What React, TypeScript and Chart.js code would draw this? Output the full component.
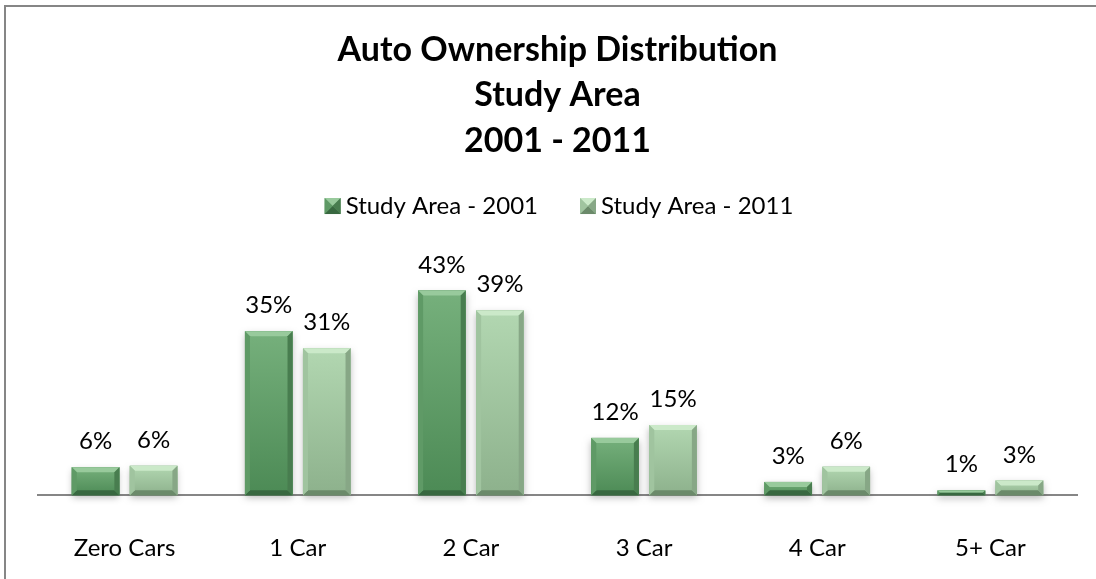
import React, { useEffect, useRef } from "react";
import { Chart, registerables } from "chart.js";

Chart.register(...registerables);

const categories = ["Zero Cars", "1 Car", "2 Car", "3 Car", "4 Car", "5+ Car"];
const series2001 = [5.9, 34.6, 43.2, 12.1, 2.8, 1.0];
const series2011 = [6.2, 31.0, 39.0, 14.8, 6.0, 3.1];
const seriesNames = ["Study Area - 2001", "Study Area - 2011"];
const titleLines = ["Auto Ownership Distribution", "Study Area", "2001 - 2011"];

const FONT = "Lato, 'Noto Sans', sans-serif";

const palettes = [
  { face1: "#76b07c", face2: "#4c8a55", top: "#98ca9c", left: "#5f9a66", right: "#487d4f", bottom: "#386840", solid: "#63a06a" },
  { face1: "#b2d7b1", face2: "#8db18c", top: "#cbe9c9", left: "#a0c49f", right: "#87a786", bottom: "#6b8a6a", solid: "#a3c8a2" },
];

function drawBevelBox(ctx: CanvasRenderingContext2D, l: number, t: number, r: number, b: number, p: any, bevel: number) {
  const h = b - t;
  const w = r - l;
  const bv = Math.max(0, Math.min(bevel, h / 2, w / 2));
  const g = ctx.createLinearGradient(0, t, 0, b);
  g.addColorStop(0, p.face1);
  g.addColorStop(1, p.face2);
  ctx.fillStyle = g;
  ctx.fillRect(l, t, w, h);
  ctx.fillStyle = p.top;
  ctx.beginPath();
  ctx.moveTo(l, t); ctx.lineTo(r, t); ctx.lineTo(r - bv, t + bv); ctx.lineTo(l + bv, t + bv); ctx.closePath(); ctx.fill();
  ctx.fillStyle = p.bottom;
  ctx.beginPath();
  ctx.moveTo(l, b); ctx.lineTo(r, b); ctx.lineTo(r - bv, b - bv); ctx.lineTo(l + bv, b - bv); ctx.closePath(); ctx.fill();
  ctx.fillStyle = p.left;
  ctx.beginPath();
  ctx.moveTo(l, t); ctx.lineTo(l + bv, t + bv); ctx.lineTo(l + bv, b - bv); ctx.lineTo(l, b); ctx.closePath(); ctx.fill();
  ctx.fillStyle = p.right;
  ctx.beginPath();
  ctx.moveTo(r, t); ctx.lineTo(r - bv, t + bv); ctx.lineTo(r - bv, b - bv); ctx.lineTo(r, b); ctx.closePath(); ctx.fill();
}

const borderPlugin = {
  id: "frameBorder",
  beforeDraw(chart: any) {
    const ctx = chart.ctx;
    ctx.save();
    ctx.fillStyle = "#ffffff";
    ctx.fillRect(0, 0, chart.width, chart.height);
    ctx.strokeStyle = "#868686";
    ctx.lineWidth = 2;
    ctx.beginPath();
    ctx.moveTo(5, chart.height + 2);
    ctx.lineTo(5, 6);
    ctx.lineTo(chart.width + 2, 6);
    ctx.stroke();
    ctx.restore();
  },
};

const LEGEND_BOX = 16;

const bevelBarsPlugin = {
  id: "bevelBars",
  afterDatasetsDraw(chart: any) {
    const ctx = chart.ctx;
    ctx.save();
    chart.data.datasets.forEach((ds: any, di: number) => {
      const meta = chart.getDatasetMeta(di);
      const p = palettes[di];
      meta.data.forEach((bar: any) => {
        const l = bar.x - bar.width / 2;
        const r = bar.x + bar.width / 2;
        const t = bar.y;
        const b = bar.base;
        ctx.save();
        ctx.shadowColor = "rgba(0,0,0,0.28)";
        ctx.shadowBlur = 7;
        ctx.shadowOffsetY = 3;
        ctx.fillStyle = p.face2;
        ctx.fillRect(l, t, r - l, b - t);
        ctx.restore();
        drawBevelBox(ctx, l, t, r, b, p, 5);
      });
    });
    ctx.fillStyle = "#000000";
    ctx.font = `24px ${FONT}`;
    ctx.textAlign = "center";
    ctx.textBaseline = "alphabetic";
    chart.data.datasets.forEach((ds: any, di: number) => {
      const meta = chart.getDatasetMeta(di);
      meta.data.forEach((bar: any, i: number) => {
        ctx.fillText(Math.round(ds.data[i]) + "%", bar.x, bar.y - 18);
      });
    });
    ctx.restore();
  },
  afterDraw(chart: any) {
    const legend = chart.legend;
    if (!legend || !legend.legendHitBoxes) return;
    const ctx = chart.ctx;
    ctx.save();
    legend.legendHitBoxes.forEach((hb: any, i: number) => {
      const p = palettes[i];
      const t = hb.top + (hb.height - LEGEND_BOX) / 2;
      ctx.fillStyle = "#ffffff";
      ctx.fillRect(hb.left - 1, t - 2, LEGEND_BOX + 2, LEGEND_BOX + 4);
      drawBevelBox(ctx, hb.left + 3, t, hb.left + 3 + LEGEND_BOX, t + LEGEND_BOX, p, LEGEND_BOX / 2);
    });
    ctx.restore();
  },
};

export default function App() {
  const canvasRef = useRef<HTMLCanvasElement | null>(null);

  useEffect(() => {
    document.body.style.margin = "0";
    document.body.style.overflow = "hidden";
    if (!canvasRef.current) return;
    const chart = new Chart(canvasRef.current, {
      type: "bar",
      data: {
        labels: categories,
        datasets: [
          { label: seriesNames[0], data: series2001, backgroundColor: palettes[0].solid, categoryPercentage: 0.67, barPercentage: 0.82 },
          { label: seriesNames[1], data: series2011, backgroundColor: palettes[1].solid, categoryPercentage: 0.67, barPercentage: 0.82 },
        ],
      },
      options: {
        animation: false,
        responsive: false,
        maintainAspectRatio: false,
        layout: { padding: { left: 38, right: 19, top: 0, bottom: -23 } },
        plugins: {
          title: {
            display: true,
            text: titleLines,
            color: "#000000",
            font: { family: FONT, size: 34, weight: "bold", lineHeight: 1.324 },
            padding: { top: 28, bottom: -8 },
          },
          legend: {
            display: true,
            position: "top",
            labels: {
              color: "#000000",
              font: { family: FONT, size: 24 },
              boxWidth: 12,
              boxHeight: 16,
              padding: 39,
              generateLabels: () =>
                seriesNames.map((n, i) => ({
                  text: n,
                  fillStyle: "#ffffff",
                  strokeStyle: "#ffffff",
                  lineWidth: 0,
                  hidden: false,
                  datasetIndex: i,
                })),
            },
          },
          tooltip: { enabled: false },
        },
        scales: {
          x: {
            grid: { display: false, drawTicks: false },
            border: { display: true, color: "#868686", width: 2 },
            ticks: { color: "#000000", font: { family: FONT, size: 24 }, padding: 39 },
          },
          y: {
            display: false,
            min: 0,
            max: 56.4,
          },
        },
      },
      plugins: [borderPlugin, bevelBarsPlugin],
    });
    return () => chart.destroy();
  }, []);

  return (
    <div style={{ position: "fixed", left: 0, top: 0, width: 1096, height: 579, background: "#fff" }}>
      <canvas ref={canvasRef} width={1096} height={579} style={{ width: 1096, height: 579, display: "block" }} />
    </div>
  );
}
